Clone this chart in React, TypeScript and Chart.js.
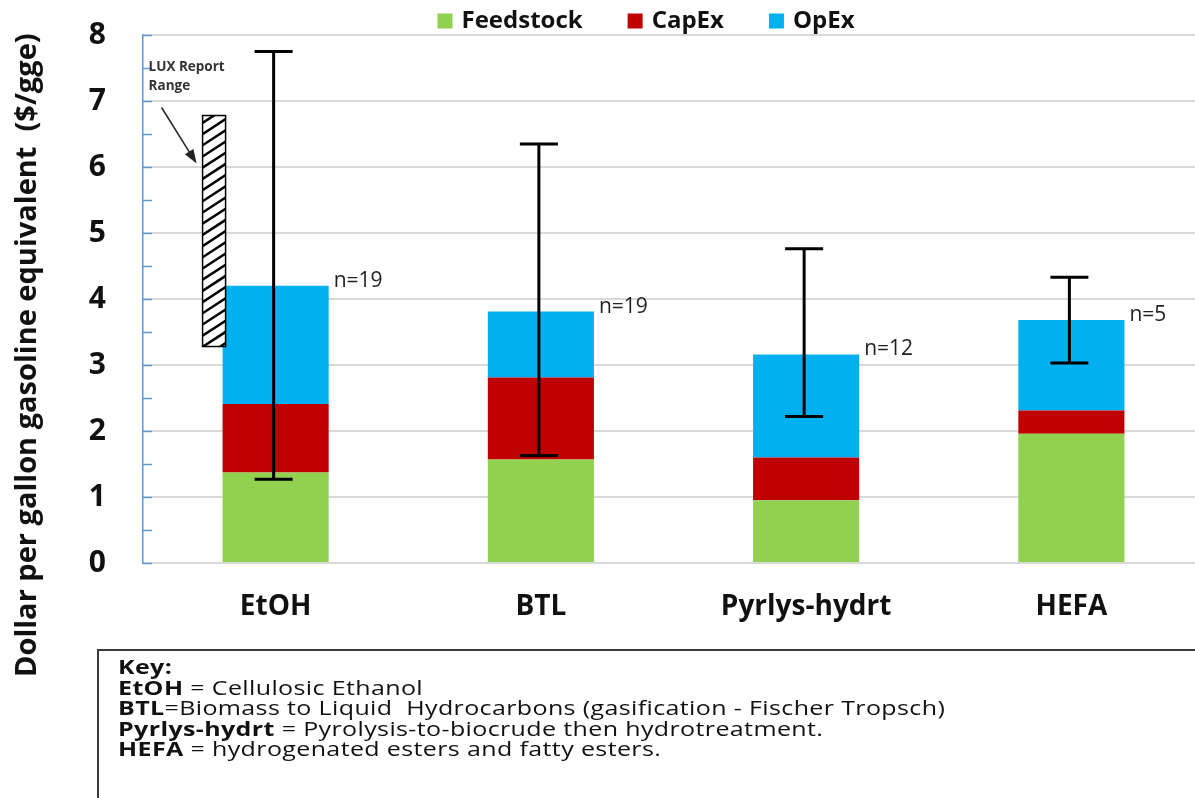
import React, { useEffect, useRef } from 'react';
import { Chart, registerables } from 'chart.js';

Chart.register(...registerables);

const categories = ['EtOH', 'BTL', 'Pyrlys-hydrt', 'HEFA'];
const feedstock = [1.37, 1.57, 0.95, 1.96];
const capex = [1.04, 1.24, 0.65, 0.35];
const opex = [1.79, 1.0, 1.56, 1.37];
const errLow = [1.27, 1.63, 2.22, 3.03];
const errHigh = [7.75, 6.35, 4.76, 4.33];
const nLabels = ['n=19', 'n=19', 'n=12', 'n=5'];
const luxRange = [3.28, 6.78];
const luxLabel = ['LUX Report', 'Range'];
const yMin = 0;
const yMax = 8;
const yTitle = 'Dollar per gallon gasoline equivalent  ($/gge)';
const seriesNames = ['Feedstock', 'CapEx', 'OpEx'];
const seriesColors = ['#92D050', '#C00000', '#00B0F0'];

const FONT = "'Open Sans', Lato, sans-serif";

const overlayPlugin = {
  id: 'overlay',
  afterDatasetsDraw(chart: any) {
    const ctx = chart.ctx;
    const y = chart.scales.y;
    const area = chart.chartArea;
    const m0 = chart.getDatasetMeta(0);
    const mTop = chart.getDatasetMeta(2);
    ctx.save();

    // inner tick marks on y axis
    ctx.strokeStyle = '#5B9BD5';
    ctx.lineWidth = 1.5;
    for (let v = yMin; v <= yMax + 1e-9; v += 0.5) {
      const py = Math.round(y.getPixelForValue(v)) + 0.5;
      ctx.beginPath();
      ctx.moveTo(area.left, py);
      ctx.lineTo(area.left + 9, py);
      ctx.stroke();
    }

    // hatched LUX range bar
    const b0 = m0.data[0];
    const right = b0.x - b0.width / 2 + 3;
    const left = right - 23;
    const top = y.getPixelForValue(luxRange[1]);
    const bottom = y.getPixelForValue(luxRange[0]);
    ctx.fillStyle = '#ffffff';
    ctx.fillRect(left, top, right - left, bottom - top);
    ctx.save();
    ctx.beginPath();
    ctx.rect(left, top, right - left, bottom - top);
    ctx.clip();
    ctx.strokeStyle = '#000';
    ctx.lineWidth = 2.5;
    for (let yy = top - 30; yy < bottom + 30; yy += 11.2) {
      ctx.beginPath();
      ctx.moveTo(left, yy + 15);
      ctx.lineTo(right, yy);
      ctx.stroke();
    }
    ctx.restore();
    ctx.strokeStyle = '#000';
    ctx.lineWidth = 1.5;
    ctx.strokeRect(left, top, right - left, bottom - top);

    // annotation text + arrow
    ctx.fillStyle = '#333';
    ctx.font = `bold 13.5px ${FONT}`;
    ctx.textAlign = 'left';
    ctx.textBaseline = 'middle';
    ctx.fillText(luxLabel[0], left - 54, top - 48);
    ctx.fillText(luxLabel[1], left - 54, top - 29);
    const ax0 = left - 41, ay0 = top - 8, ax1 = left - 6, ay1 = top + 48;
    const ang = Math.atan2(ay1 - ay0, ax1 - ax0);
    ctx.strokeStyle = '#222';
    ctx.lineWidth = 1.5;
    ctx.beginPath();
    ctx.moveTo(ax0, ay0);
    ctx.lineTo(ax1 - 10 * Math.cos(ang), ay1 - 10 * Math.sin(ang));
    ctx.stroke();
    ctx.fillStyle = '#222';
    ctx.beginPath();
    ctx.moveTo(ax1, ay1);
    ctx.lineTo(ax1 - 14 * Math.cos(ang) + 5 * Math.sin(ang), ay1 - 14 * Math.sin(ang) - 5 * Math.cos(ang));
    ctx.lineTo(ax1 - 14 * Math.cos(ang) - 5 * Math.sin(ang), ay1 - 14 * Math.sin(ang) + 5 * Math.cos(ang));
    ctx.closePath();
    ctx.fill();

    // error bars
    ctx.strokeStyle = '#000';
    ctx.lineWidth = 3;
    m0.data.forEach((bar: any, i: number) => {
      const x = bar.x - 2;
      const yl = y.getPixelForValue(errLow[i]);
      const yh = y.getPixelForValue(errHigh[i]);
      ctx.beginPath();
      ctx.moveTo(x, yl);
      ctx.lineTo(x, yh);
      ctx.moveTo(x - 19, yh);
      ctx.lineTo(x + 19, yh);
      ctx.moveTo(x - 19, yl);
      ctx.lineTo(x + 19, yl);
      ctx.stroke();
    });

    // n labels
    ctx.fillStyle = '#222';
    ctx.font = `21px ${FONT}`;
    ctx.textAlign = 'left';
    ctx.textBaseline = 'middle';
    mTop.data.forEach((bar: any, i: number) => {
      ctx.fillText(nLabels[i], bar.x + bar.width / 2 + 5, bar.y - 5);
    });

    ctx.restore();
  },
  afterDraw(chart: any) {
    const ctx = chart.ctx;
    ctx.save();
    // y axis title
    ctx.fillStyle = '#111';
    ctx.font = `bold 29px ${FONT}`;
    ctx.textAlign = 'left';
    ctx.textBaseline = 'alphabetic';
    ctx.translate(36, 677);
    ctx.rotate(-Math.PI / 2);
    ctx.fillText(yTitle, 0, 0);
    ctx.restore();

    // legend
    ctx.save();
    ctx.font = `bold 24px ${FONT}`;
    const ds = chart.data.datasets;
    const box = 15, gap = 9, spacing = 45;
    const widths = ds.map((d: any) => ctx.measureText(d.label).width);
    const total = widths.reduce((a: number, w: number) => a + box + gap + w, 0) + spacing * (ds.length - 1);
    let x = 646 - total / 2;
    const cy = 21;
    ctx.textBaseline = 'middle';
    ctx.textAlign = 'left';
    ds.forEach((d: any, i: number) => {
      ctx.fillStyle = d.backgroundColor;
      ctx.fillRect(x, cy - box / 2, box, box);
      ctx.fillStyle = '#111';
      ctx.fillText(d.label, x + box + gap, cy);
      x += box + gap + widths[i] + spacing;
    });
    ctx.restore();
  },
};

export default function App() {
  const ref = useRef<HTMLCanvasElement | null>(null);
  useEffect(() => {
    if (!ref.current) return;
    const chart = new Chart(ref.current, {
      type: 'bar',
      data: {
        labels: categories,
        datasets: [feedstock, capex, opex].map((d, i) => ({
          label: seriesNames[i],
          data: d,
          backgroundColor: seriesColors[i],
          borderWidth: 0,
          categoryPercentage: 1,
          barPercentage: 0.4,
        })),
      },
      options: {
        animation: false,
        responsive: false,
        devicePixelRatio: 1,
        layout: { padding: { top: 35, left: 0, right: 0, bottom: 175 } },
        plugins: { legend: { display: false }, tooltip: { enabled: false } },
        scales: {
          x: {
            stacked: true,
            grid: { display: false, drawTicks: false },
            border: { color: '#D9D9D9', width: 2 },
            ticks: { color: '#111', font: { family: FONT, size: 28, weight: 'bold' }, padding: 27 },
            afterFit: (s: any) => { s.height = 60; },
          },
          y: {
            stacked: true,
            min: yMin,
            max: yMax,
            ticks: {
              stepSize: 0.5,
              autoSkip: false,
              color: '#111',
              font: { family: FONT, size: 30, weight: 'bold' },
              padding: 37,
              callback: (v: any) => (Number.isInteger(v) ? String(v) : ''),
            },
            grid: {
              drawTicks: false,
              lineWidth: 2,
              color: (c: any) => (c.tick && Number.isInteger(c.tick.value) && c.tick.value !== 0 ? '#D9D9D9' : 'rgba(0,0,0,0)'),
            },
            border: { color: '#5B9BD5', width: 1.5 },
            afterFit: (s: any) => {
              s.width = 143;
              s.paddingTop = 0;
              s.paddingBottom = 0;
            },
          },
        },
      },
      plugins: [overlayPlugin],
    });
    return () => chart.destroy();
  }, []);

  return (
    <div style={{ position: 'absolute', left: 0, top: 0, width: 1195, height: 798, overflow: 'hidden', background: '#fff' }}>
      <canvas ref={ref} width={1204} height={798} style={{ display: 'block' }} />
      <div
        style={{
          position: 'absolute',
          left: 97,
          top: 649,
          width: 1150,
          height: 200,
          border: '2px solid #3a3a3a',
          boxSizing: 'border-box',
          padding: '6px 0 0 19px',
          color: '#111',
        }}
      >
        <div
          style={{
            fontFamily: FONT,
            fontSize: 20,
            letterSpacing: '0.3px',
            lineHeight: '20.5px',
            whiteSpace: 'pre',
            transform: 'scaleX(1.25)',
            transformOrigin: '0 0',
          }}
        >
          <div><b>Key:</b></div>
          <div><b>EtOH</b> = Cellulosic Ethanol</div>
          <div><b>BTL</b>=Biomass to Liquid  Hydrocarbons (gasification - Fischer Tropsch)</div>
          <div><b>Pyrlys-hydrt</b> = Pyrolysis-to-biocrude then hydrotreatment.</div>
          <div><b>HEFA</b> = hydrogenated esters and fatty esters.</div>
        </div>
      </div>
    </div>
  );
}
